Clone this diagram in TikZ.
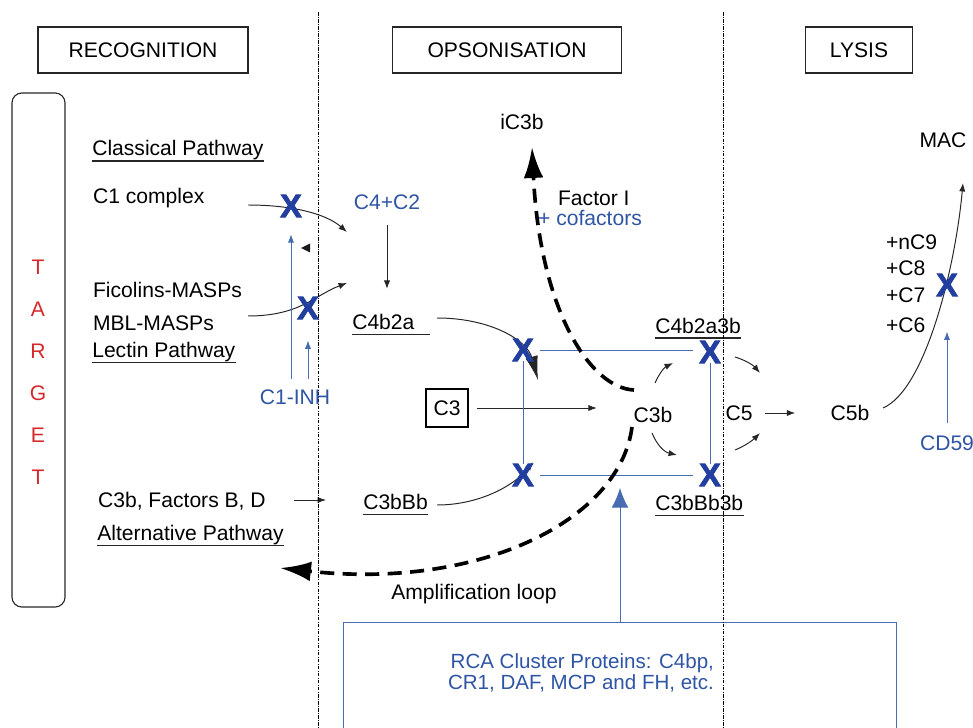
\documentclass[tikz,border=0pt]{standalone}
\usepackage{fontspec}
\setmainfont{Liberation Sans}
\newfontfamily\xfont[FakeBold=2.5]{Liberation Sans Bold}
\usetikzlibrary{positioning}
\usetikzlibrary{calc}
\usetikzlibrary{arrows,arrows.meta}

\definecolor{rcablue}{RGB}{46,84,164}
\definecolor{xblue}{RGB}{34,62,158}
\definecolor{lineblue}{RGB}{72,108,178}
\definecolor{tgtred}{RGB}{214,40,44}

\newcommand{\txtsize}{\fontsize{15}{18}\selectfont}
\newcommand{\xsize}{\xfont\fontsize{23}{23}\selectfont}

\pgfdeclarelayer{back}
\pgfsetlayers{back,main}

\tikzset{
  every node/.style={font=\txtsize, inner sep=2pt},
  head/.style={draw=black!85, line width=0.8pt, minimum height=1.15cm},
  xmark/.style={font=\xsize, text=xblue, inner xsep=4pt, inner ysep=0pt},
  bluetxt/.style={text=rcablue},
  ul/.style={anchor=base west, text depth=2.5pt, inner xsep=0pt, inner ysep=0.8pt},
  ulline/.style={line width=1pt, black!85},
  flow/.style={line width=0.7pt, black!85, -{Latex[length=6pt,width=4.5pt]}},
  inh/.style={draw=lineblue, line width=0.7pt, -{Latex[length=6pt,width=4.5pt]}},
  blueline/.style={draw=lineblue, line width=0.7pt},
  loopline/.style={line width=2.6pt, dash pattern=on 10pt off 6pt, -{Latex[length=22pt,width=14pt]}},
  sep/.style={line width=0.6pt, dash pattern=on 2.5pt off 1pt on 0.5pt off 1pt}
}

\begin{document}
\begin{tikzpicture}[x=0.025cm,y=-0.025cm]
\useasboundingbox (0,0) rectangle (973,728);

% phases
\node[head, minimum width=5.25cm](recog) at (143,50){RECOGNITION};
\node[head, minimum width=5.73cm](opson) at (507,50){OPSONISATION};
\node[head, minimum width=2.68cm](lysis) at (859,50){LYSIS};

\draw[sep](318,12)--(318,728);
\draw[sep](723,12)--(723,728);

% target membrane
\draw[rounded corners=7pt, line width=0.8pt, black!85](12,93) rectangle (65,607);
\node[text=tgtred, align=center, font=\fontsize{15}{29.9}\selectfont](target) at (38,372){T\\A\\R\\G\\E\\T};

% recognition
\node[ul](classical) at (92,156){Classical Pathway};
\node[anchor=base west](c1) at (90,204){C1 complex};
\node[anchor=base west](ficolin) at (90,297.5){Ficolins-MASPs};
\node[anchor=base west](mbl) at (90,330.5){MBL-MASPs};
\node[ul](lectin) at (92,357.5){Lectin Pathway};
\node[anchor=base west](c3bfac) at (95,507.5){C3b, Factors B, D};
\node[ul](alt) at (97,540.5){Alternative Pathway};
\node[bluetxt](c1inh) at (295,397){C1-INH};

% opsonisation
\node[bluetxt](c4c2) at (387,202){C4+C2};
\node[ul](c4b2a) at (352,329.5){C4b2a};
\node[draw, line width=0.8pt, minimum width=1.05cm, minimum height=0.95cm](c3) at (447,408){C3};
\node(c3b) at (653,415){C3b};
\node[ul](c4b2a3b) at (655,333){C4b2a3b};
\node[ul](c3bbb3b) at (655,510.5){C3bBb3b};
\node[ul](c3bbb) at (363,509.5){C3bBb};
\node(ic3b) at (522,122){iC3b};
\node[anchor=west](factor) at (555,198){Factor I};
\node[anchor=west, bluetxt](cofac) at (535,218){+ cofactors};
\node(amp) at (474,594){Amplification loop};
\node[bluetxt, anchor=east, align=right, font=\fontsize{14.6}{14.5}\selectfont](rca) at (717,673){RCA Cluster Proteins: C4bp,\\CR1, DAF, MCP and FH, etc.};

% lysis
\node(c5) at (739,413){C5};
\node(c5b) at (850,413){C5b};
\node(mac) at (943,140){MAC};
\node[anchor=west](nc9) at (883,242){+nC9};
\node[anchor=west](c8) at (883,268){+C8};
\node[anchor=west](c7) at (883,295){+C7};
\node[anchor=west](c6) at (883,325){+C6};
\node[bluetxt](cd59) at (947,443){CD59};

% inhibition points
\node[xmark](xc1) at (291,206){X};
\node[xmark](xmbl) at (308,308){X};
\node[xmark](xa) at (523,350){X};
\node[xmark](xb) at (710,352){X};
\node[xmark](xc) at (523,475){X};
\node[xmark](xd) at (710,475){X};
\node[xmark](xmac) at (947,285){X};

% free ends
\coordinate(c1start) at (248,205);
\coordinate(c1end) at (347,232);
\coordinate(mblstart) at (248,316);
\coordinate(mblend) at (347,283);
\coordinate(c4start) at (437,318);
\coordinate(c4end) at (538,380);
\coordinate(bbstart) at (437,505);
\coordinate(bbend) at (533,462);
\coordinate(altend) at (326,500);
\coordinate(loopa) at (634,390);
\coordinate(ic3btip) at (532,147);
\coordinate(loopb) at (632,427);
\coordinate(alttip) at (280,568);
\coordinate(rcatop) at (620,622);
\coordinate(rcatip) at (620,488);
\coordinate(mactip) at (963,183);

\begin{pgfonlayer}{back}
\draw[ulline](classical.south west)--(classical.south east);
\draw[ulline](lectin.south west)--(lectin.south east);
\draw[ulline](alt.south west)--(alt.south east);
\draw[ulline](c4b2a.south west)--([xshift=0.38cm]c4b2a.south east);
\draw[ulline](c4b2a3b.south west)--(c4b2a3b.south east);
\draw[ulline](c3bbb3b.south west)--(c3bbb3b.south east);
\draw[ulline](c3bbb.south west)--(c3bbb.south east);

\draw[flow](c1start) .. controls (290,205) and (325,213) .. (c1end);
\draw[flow](mblstart) .. controls (300,316) and (315,295) .. (mblend);
\fill[black!90](301,248)--(310,243.5)--(310,252.5)--cycle;
\draw[flow, shorten <=9pt, shorten >=17pt](c4c2.south)--(c4c2.south |- c4b2a.north);
\draw[line width=0.7pt, black!85, -{Latex[length=17pt,width=9pt]}](c4start) .. controls (490,318) and (527,340) .. (c4end);
\draw[flow](bbstart) .. controls (480,505) and (515,485) .. (bbend);
\draw[flow, shorten <=18pt](c3bfac.east |- altend)--(altend);
\draw[flow, shorten <=6pt, shorten >=40pt](c3)--(c3 -| c3b);

\draw[flow](655,383) .. controls (660,372) and (665,367) .. (673,363);
\draw[flow](652,433) .. controls (657,445) and (664,452) .. (677,455);
\draw[flow](735,357) .. controls (745,360) and (753,365) .. (760,373);
\draw[flow](735,450) .. controls (745,446) and (753,440) .. (760,433);
\draw[flow, shorten <=7pt, shorten >=23pt](c5)--(c5b);
\draw[flow](883,408) .. controls (925,390) and (955,270) .. (mactip);

\draw[blueline](xa)--(xa -| xb.west);
\draw[blueline](xb)--(xd);
\draw[blueline](xd)--(xc);
\draw[blueline](xc)--(xa);

\draw[inh, shorten <=5pt, shorten >=12pt](c1inh.north -| xc1)--(xc1);
\draw[inh, shorten <=5pt, shorten >=15pt](c1inh.north -| xmbl)--(xmbl);
\draw[inh, shorten <=7pt, shorten >=25pt](cd59.north)--(xmac);

\draw[blueline](343,728) |- (896,622) -- (896,728);
\draw[draw=lineblue, line width=0.7pt, -{Latex[length=14pt,width=12pt]}](rcatop)--(rcatip);

\draw[loopline](loopa) .. controls (590,388) and (540,310) .. (ic3btip);
\draw[loopline](loopb) .. controls (620,520) and (480,590) .. (alttip);
\end{pgfonlayer}
\end{tikzpicture}
\end{document}
